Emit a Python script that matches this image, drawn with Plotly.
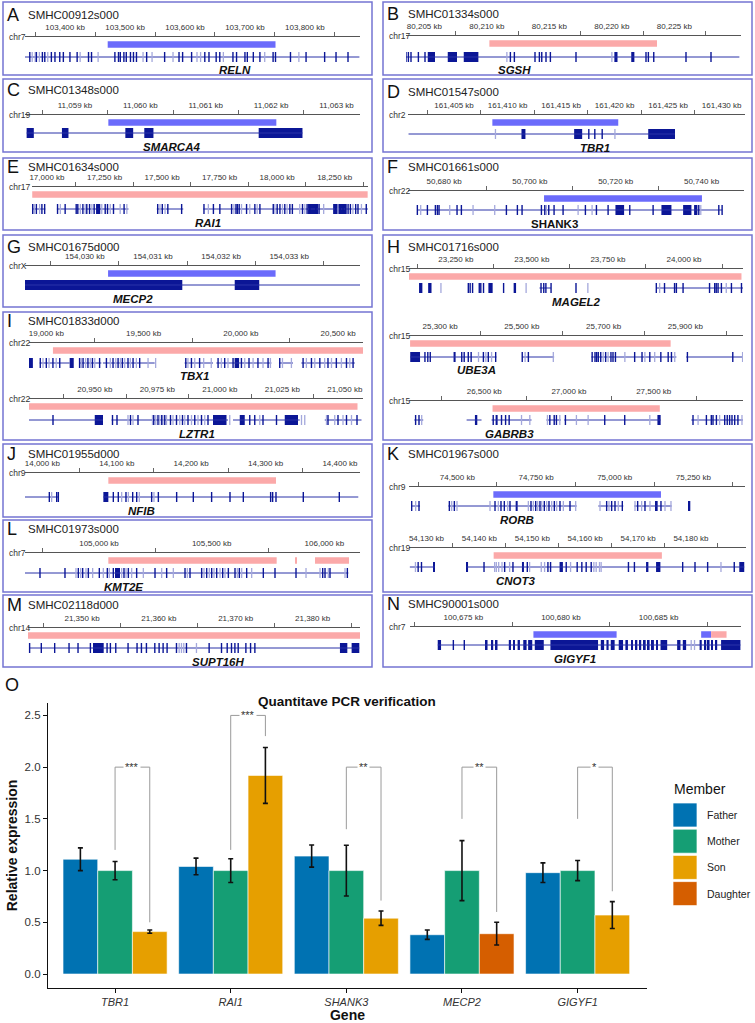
import plotly.graph_objects as go

# ====================== qPCR data (panel O) ======================
genes = ["TBR1", "RAI1", "SHANK3", "MECP2", "GIGYF1"]
members = ["Father", "Mother", "Son", "Daughter"]
father_vals = [1.11, 1.04, 1.14, 0.38, 0.98]
father_err = [0.11, 0.08, 0.107, 0.045, 0.095]
mother_vals = [1.00, 1.00, 1.00, 1.00, 1.00]
mother_err = [0.088, 0.115, 0.245, 0.29, 0.097]
son_genes = ["TBR1", "RAI1", "SHANK3", "GIGYF1"]
son_vals = [0.41, 1.92, 0.54, 0.57]
son_err = [0.016, 0.27, 0.07, 0.13]
daughter_genes = ["MECP2"]
daughter_vals = [0.39]
daughter_err = [0.11]
sig_labels = ["***", "***", "**", "**", "*"]
bracket_top = [2.0, 2.5, 2.0, 2.0, 2.0]
bracket_left_low = [1.2, 1.2, 1.4, 1.5, 1.5]
bracket_right_low = [0.5, 2.3, 0.71, 0.6, 0.8]
y_ticks = [0.0, 0.5, 1.0, 1.5, 2.0, 2.5]

# ====================== genome browser data (kb) ======================
RELN_range = [103333, 103892]
RELN_ticks = [103400, 103500, 103600, 103700, 103800]
RELN_cnv = [(103471, 103751, "dup")]
RELN_introns = [(103333, 103891)]
RELN_thin = [103341, 103352, 103362, 103366, 103377, 103383, 103391, 103397, 103408, 103420,
             103439, 103444, 103483, 103489, 103492, 103498, 103502, 103509, 103514, 103519,
             103536, 103566, 103590, 103596, 103611, 103633, 103640, 103652, 103658, 103680,
             103686, 103700, 103704, 103714, 103725, 103747, 103751, 103776, 103802, 103833,
             103852, 103872]
RELN_light = [103345, 103350, 103357, 103371, 103425, 103455, 103530, 103545, 103580, 103620,
              103626, 103664, 103733, 103790]
RELN_thick = []
RELN_label_at = 103683

SGSH_range = [80203.53, 80230.33]
SGSH_ticks = [80205, 80210, 80215, 80220, 80225]
SGSH_cnv = [(80210.2, 80223.61, "del")]
SGSH_introns = [(80203.45, 80230.2)]
SGSH_thin = [80203.53, 80203.72, 80203.93, 80204.52, 80205.05, 80211.88, 80212.2, 80213.85,
             80214.2, 80214.39, 80214.73, 80215.08, 80217.13, 80222.73, 80222.92, 80223.35,
             80225.93, 80227.93]
SGSH_light = [80211.6, 80220.0]
SGSH_thick = [(80205.27, 80205.85), (80206.87, 80207.61), (80208.15, 80209.32),
              (80220.2, 80220.45), (80221.55, 80221.8)]
SGSH_label_at = 80212.2

SMARCA4_range = [11058.235, 11063.36]
SMARCA4_ticks = [11059, 11060, 11061, 11062, 11063]
SMARCA4_cnv = [(11059.51, 11062.08, "dup")]
SMARCA4_introns = [(11058.26, 11062.48)]
SMARCA4_thin = []
SMARCA4_light = []
SMARCA4_thick = [(11058.26, 11058.37), (11058.8, 11058.9), (11059.77, 11059.89),
                 (11060.06, 11060.2), (11061.81, 11062.48)]
SMARCA4_label_at = 11060.48

TBR1_range = [161400.70, 161432.18]
TBR1_ticks = [161405, 161410, 161415, 161420, 161425, 161430]
TBR1_cnv = [(161408.58, 161420.34, "dup")]
TBR1_introns = [(161400.75, 161425.64)]
TBR1_thin = [161417.59, 161418.15, 161418.84]
TBR1_light = [161408.87, 161420.03]
TBR1_thick = [(161411.3, 161411.67), (161416.22, 161416.97), (161423.14, 161425.64)]
TBR1_label_at = 161418.15

RAI1_range = [16935, 18394.5]
RAI1_ticks = [17000, 17250, 17500, 17750, 18000, 18250]
RAI1_cnv = [(16936, 18393, "del")]
RAI1_introns = [(16935, 16993), (17043, 17354), (17477, 17592), (17679, 18394)]
RAI1_thin = [16938, 16954, 16978, 16990, 17046, 17079, 17127, 17134, 17156, 17173, 17185, 17205,
             17217, 17228, 17253, 17263, 17289, 17335, 17481, 17501, 17525, 17585, 17682, 17723,
             17751, 17802, 17821, 17827, 17835, 17867, 17903, 17925, 17983, 18000, 18012, 18033,
             18055, 18066, 18110, 18130, 18142, 18168, 18182, 18254, 18274, 18286, 18298, 18308,
             18318, 18341, 18351, 18387]
RAI1_light = [16945, 16968, 17058, 17145, 17166, 17195, 17238, 17275, 17318, 17347, 17491, 17513,
              17701, 17812, 17845, 17881, 17913, 17990, 18023, 18043, 18098, 18120, 18202, 18264,
              18329, 18366]
RAI1_thick = [(17214, 17231), (18134, 18178), (18243, 18301)]
RAI1_label_at = 17701

SHANK3_range = [50671.6, 50749.9]
SHANK3_ticks = [50680, 50700, 50720, 50740]
SHANK3_cnv = [(50703.3, 50740.1, "dup")]
SHANK3_introns = [(50673.78, 50744.8)]
SHANK3_thin = [50673.78, 50676.12, 50677.98, 50678.45, 50678.83, 50683.03, 50684.04, 50694.53,
               50697.09, 50698.18, 50702.69, 50703.47, 50704.4, 50705.64, 50707.74, 50712.94,
               50715.51, 50718.23, 50723.28, 50728.72, 50739.36, 50744.03, 50744.8]
SHANK3_light = [50674.56, 50681.32, 50686.76, 50691.81, 50703.85, 50711.24, 50714.5, 50739.83]
SHANK3_thick = [(50719.94, 50721.96), (50730.66, 50732.99), (50735.71, 50737.65),
                (50738.27, 50739.05)]
SHANK3_label_at = 50705.8

MECP2_range = [154029.12, 154034.04]
MECP2_ticks = [154030, 154031, 154032, 154033]
MECP2_cnv = [(154030.34, 154032.80, "dup")]
MECP2_introns = [(154029.12, 154034.04)]
MECP2_thin = []
MECP2_light = []
MECP2_thick = [(154029.12, 154031.43), (154032.2, 154032.56)]
MECP2_label_at = 154030.71

MAGEL2_range = [23096, 24194]
MAGEL2_ticks = [23250, 23500, 23750, 24000]
MAGEL2_cnv = [(23096, 24189, "del")]
MAGEL2_introns = [(23525, 23563), (23909, 24194)]
MAGEL2_thin = [23291, 23297, 23305, 23327, 23332, 23341, 23407, 23530, 23539, 23546, 23563,
               23645, 23909, 23936, 23969, 23975, 23997, 24084, 24101, 24106, 24112, 24123,
               24156, 24189]
MAGEL2_light = [23201, 23481, 23684, 23920, 24139]
MAGEL2_thick = [(23129, 23140), (23159, 23170), (23357, 23371), (23440, 23448)]
MAGEL2_label_at = 23645

UBE3A_range = [25224, 26041]
UBE3A_ticks = [25300, 25500, 25700, 25900]
UBE3A_cnv = [(25226.7, 25864, "del")]
UBE3A_introns = [(25227, 25438), (25501, 25579), (25670, 25878), (25902, 26041)]
UBE3A_thin = [25263, 25270, 25276, 25353, 25359, 25369, 25376, 25406, 25418, 25436, 25501,
              25516, 25672, 25679, 25683, 25687, 25693, 25705, 25718, 25723, 25729, 25776,
              25794, 25813, 25840, 25858, 25866, 25905, 26016]
UBE3A_light = [25394, 25412, 25426, 25508, 25577, 25699, 25711, 25752, 25801, 25825, 25874, 26040]
UBE3A_thick = [(25227, 25251), (25333, 25338)]
UBE3A_label_at = 25390

GABRB3_range = [26056, 28027]
GABRB3_ticks = [26500, 27000, 27500]
GABRB3_cnv = [(26549, 27536, "del")]
GABRB3_introns = [(26087, 26140), (26396, 26484), (26543, 26779), (26867, 26952),
                  (26972, 27541), (27722, 28027)]
GABRB3_thin = [26095, 26115, 26553, 26602, 26626, 26647, 26887, 26913, 26926, 26979, 27211,
               27329, 27732, 27811, 27840, 27850, 27870, 27919, 27934, 27948, 27962, 27978,
               27997]
GABRB3_light = [26131, 26720, 26769, 26873, 26946, 27044, 27113, 27477, 27762, 27889, 28021]
GABRB3_thick = [(26445, 26459), (26567, 26579), (27522, 27541)]
GABRB3_label_at = 26651

TBX1_range = [18911, 20628]
TBX1_ticks = [19000, 19500, 20000, 20500]
TBX1_cnv = [(19034, 20628, "del")]
TBX1_introns = [(18966, 19120), (19171, 19283), (19291, 19557), (19711, 19857),
                (19874, 20157), (20196, 20268), (20311, 20586)]
TBX1_thin = [18969, 19000, 19034, 19069, 19171, 19189, 19214, 19237, 19274, 19309, 19343,
             19369, 19391, 19420, 19446, 19480, 19717, 19746, 19788, 19883, 19917, 19960,
             20003, 20042, 20088, 20140, 20200, 20320, 20363, 20406, 20448, 20491, 20543,
             20577]
TBX1_light = [18983, 19014, 19051, 19180, 19202, 19226, 19249, 19329, 19357, 19381, 19403,
              19432, 19463, 19523, 19562, 19728, 19763, 19809, 19848, 19900, 19934, 20020,
              20063, 20114, 20152, 20214, 20260, 20337, 20380, 20431, 20466, 20517, 20560]
TBX1_thick = [(18911, 18931), (19120, 19141), (19968, 19991)]
TBX1_label_at = 19763

LZTR1_range = [20923.7, 21057.3]
LZTR1_ticks = [20950, 20975, 21000, 21025, 21050]
LZTR1_cnv = [(20923.7, 21055.1, "del")]
LZTR1_introns = [(20923.7, 20953.3), (20956.7, 21003.3), (21005.3, 21032), (21042, 21056.7)]
LZTR1_thin = [20933.3, 20957.1, 20958.9, 20964.3, 20967.3, 20973.6, 20975.3, 20976.8, 20978,
              20980.3, 20982.7, 20985.1, 20987.3, 20990, 20992.7, 20995.3, 21012, 21014,
              21017.3, 21022.7, 21043.3, 21047.3, 21050.7, 21054.9]
LZTR1_light = [20963.3, 20965.3, 20973.1, 20974.4, 20976, 20977.3, 20978.7, 20981.3, 20984,
               20986, 20988.7, 20991.3, 20994, 21004, 21016, 21032.7, 21034, 21042.7, 21046,
               21049.3, 21052.7]
LZTR1_thick = [(20950, 20953.3), (20997.3, 21002.7), (21008, 21010), (21026, 21031.3)]
LZTR1_label_at = 20990.7

NFIB_range = [13976.7, 14426.9]
NFIB_ticks = [14000, 14100, 14200, 14300, 14400]
NFIB_cnv = [(14088.7, 14314, "del")]
NFIB_introns = [(13976.7, 14021.5), (14082, 14424.6)]
NFIB_thin = [14009.4, 14019.3, 14021.5, 14095.4, 14102.1, 14112.4, 14121.4, 14126.8, 14146.9,
             14155.9, 14180.5, 14202.9, 14227.5, 14252.2, 14270.1, 14306.8, 14309.5, 14314,
             14350.7, 14399.1]
NFIB_light = [14012.5, 14106.6, 14115.6, 14130.3, 14150]
NFIB_thick = [(14082, 14088.7)]
NFIB_label_at = 14133.5

RORB_range = [74346.4, 75414]
RORB_ticks = [74500, 74750, 75000, 75250]
RORB_cnv = [(74614.4, 75147, "dup")]
RORB_introns = [(74352.8, 74381.4), (74471.4, 74879.1), (74948, 75027.4), (75062.3, 75180.9)]
RORB_thin = [74354.9, 74378.2, 74474.6, 74490.5, 74619.7, 74638.7, 74649.3, 74667.3, 74734,
             74748.9, 74762.6, 74776.4, 74791.2, 74808.2, 74826.2, 74858, 74974.4, 74990.3,
             75000.9, 75024.2, 75072.9, 75096.2, 75147]
RORB_light = [74367.6, 74482, 74498.9, 74603.8, 74630.3, 74659.9, 74725.6, 74741.5, 74755.2,
              74767.9, 74783.8, 74799.7, 74815.6, 74836.8, 74876, 74953.3, 74981.8, 75011.5,
              75064.5, 75085.6, 75112.1, 75159.8, 75178.8]
RORB_thick = [(74685.3, 74691.7), (75128, 75136.5), (75233.9, 75240.2)]
RORB_label_at = 74688.5

CNOT3_range = [54126.7, 54190.4]
CNOT3_ticks = [54130, 54140, 54150, 54160, 54170, 54180]
CNOT3_cnv = [(54142.7, 54174.5, "del")]
CNOT3_introns = [(54126.86, 54131.57), (54137.55, 54190.07)]
CNOT3_thin = [54128.43, 54129.06, 54140.88, 54144.78, 54146.35, 54149.06, 54152.96, 54153.46,
              54156.42, 54158.49, 54159.37, 54160.19, 54161.14, 54168.18, 54169.31, 54178.43,
              54180.76, 54183.15, 54188.18]
CNOT3_light = [54127.92, 54142.89, 54143.21, 54143.65, 54144.28, 54145.72, 54149.5, 54151.7,
               54152.33, 54157.24, 54161.64, 54162.08, 54162.71, 54163.02, 54185.67]
CNOT3_thick = [(54131.26, 54131.57), (54137.55, 54137.86), (54148.05, 54148.43),
               (54155.16, 54155.79), (54171.51, 54171.95), (54173.4, 54174.22),
               (54189.13, 54190.07)]
CNOT3_label_at = 54146.98

KMT2E_range = [104671.7, 106158]
KMT2E_ticks = [105000, 105500, 106000]
KMT2E_cnv = [(105041.4, 105788.3, "del"), (105869.7, 105877, "del"), (105958.4, 106109.3, "del")]
KMT2E_introns = [(104671.7, 106106.3)]
KMT2E_thin = [104738.2, 104849.1, 104908.3, 104927.5, 104952.7, 105001.5, 105037, 105063.6,
              105110.9, 105130.2, 105167.1, 105248.5, 105300.2, 105381.6, 105403.8, 105455.5,
              105477.7, 105499.9, 105522.1, 105548.7, 105573.9, 105603.4, 105622.7, 105655.2,
              105729.1, 105780.9, 105874.1, 105992.4, 106002.8, 106024.9, 106101.9]
KMT2E_light = [104897.9, 104918.7, 104942.3, 104971.9, 105019.2, 105045.8, 105100.6, 105119.8,
               105144.9, 105196.7, 105278, 105329.8, 105391.9, 105465.9, 105489.5, 105510.3,
               105536.9, 105559.1, 105613.8, 105633, 105677.4, 105918.5, 105980.6, 106017.6,
               106091.5]
KMT2E_thick = [(105071, 105093.2)]
KMT2E_label_at = 105108

SUPT16H_range = [21342.97, 21386.17]
SUPT16H_ticks = [21350, 21360, 21370, 21380]
SUPT16H_cnv = [(21342.97, 21386.17, "del")]
SUPT16H_introns = [(21343.1, 21386.08)]
SUPT16H_thin = [21343.18, 21344.7, 21346.44, 21348.31, 21349.48, 21351.09, 21353.26, 21353.69,
                21354.39, 21355.99, 21357.16, 21357.73, 21358.38, 21359.47, 21360.03, 21360.55,
                21361.07, 21362.29, 21363.59, 21366.54, 21368.15, 21368.89, 21369.45, 21369.89,
                21370.32, 21371.32, 21371.93, 21372.49]
SUPT16H_light = [21362.64, 21362.94, 21363.24, 21364.89]
SUPT16H_thick = [(21351.43, 21352.82), (21383.56, 21384.52), (21385.08, 21386.08)]
SUPT16H_label_at = 21367.7

GIGYF1_range = [100672.27, 100689.22]
GIGYF1_ticks = [100675, 100680, 100685]
GIGYF1_cnv = [(100678.59, 100682.85, "dup"), (100687.18, 100687.69, "dup"),
              (100687.69, 100688.48, "del")]
GIGYF1_introns = [(100673.69, 100689.19)]
GIGYF1_thin = [100674.49, 100675.05]
GIGYF1_light = [100686.67, 100686.84]
GIGYF1_thick = [(100673.69, 100673.86), (100676.11, 100676.24), (100676.45, 100676.53),
                (100676.65, 100676.75), (100677.33, 100677.44), (100677.56, 100677.64),
                (100677.78, 100677.9), (100678.07, 100678.24), (100678.32, 100678.53),
                (100678.66, 100679.12), (100679.46, 100681.9), (100682.04, 100682.21),
                (100682.33, 100682.44), (100682.55, 100682.75), (100682.96, 100683.18),
                (100683.3, 100683.43), (100683.6, 100683.69), (100683.81, 100683.91),
                (100684.03, 100684.11), (100684.25, 100684.34), (100684.45, 100684.54),
                (100684.66, 100684.76), (100684.88, 100684.97), (100685.1, 100685.44),
                (100685.95, 100686.12), (100686.24, 100686.41), (100687.1, 100687.21),
                (100687.35, 100687.44), (100687.52, 100687.61), (100687.69, 100687.78),
                (100687.9, 100688.0), (100688.2, 100689.19)]
GIGYF1_label_at = 100680.71

G = globals()
def gene_data(name):
    return {k: G[f"{name}_{k}"] for k in
            ["range", "ticks", "cnv", "introns", "thin", "light", "thick", "label_at"]}

# ====================== layout / styles ======================
W, H = 755, 1023
FONT = "Liberation Sans, Arial, Helvetica, sans-serif"
EXON = "#0b1696"
LIGHT = "#a4a8dc"
INTRON = "#2a33a8"
CNV_COL = {"dup": "#6b6bfb", "del": "#fba9a9"}
BOX = "#7474d2"
MEMBER_COL = {"Father": "#0072B2", "Mother": "#159E74", "Son": "#E69F00", "Daughter": "#D55E00"}

def fx(p):
    return p / W

def fy(p):
    return 1 - p / H

# panel letter, id, box (l, t, r, b) in px, id text centre y
PANELS = [
    ("A", "SMHC00912s000", (3, 2, 372, 75), 15),
    ("B", "SMHC01334s000", (383, 2, 752, 75), 14),
    ("C", "SMHC01348s000", (3, 79, 372, 152), 90),
    ("D", "SMHC01547s000", (383, 79, 752, 152), 92),
    ("E", "SMHC01634s000", (3, 158, 372, 230), 167),
    ("F", "SMHC01661s000", (383, 158, 752, 230), 167),
    ("G", "SMHC01675d000", (3, 235, 372, 307), 247),
    ("H", "SMHC01716s000", (383, 235, 752, 440), 247),
    ("I", "SMHC01833d000", (3, 312, 372, 440), 321),
    ("J", "SMHC01955d000", (3, 444, 372, 517), 454),
    ("K", "SMHC01967s000", (383, 444, 752, 592), 454),
    ("L", "SMHC01973s000", (3, 520, 372, 592), 529),
    ("M", "SMHC02118d000", (3, 595, 372, 667), 605),
    ("N", "SMHC90001s000", (383, 595, 752, 667), 604),
]

# gene, chromosome, box left, axis x-extent px, axis line y px, gene centre y px, italic
TRACKS = [
    ("RELN", "chr7", 3, (25, 360), 37, 57, True),
    ("SGSH", "chr17", 383, (406, 741), 36, 57, True),
    ("SMARCA4", "chr19", 3, (25, 360), 115, 133, True),
    ("TBR1", "chr2", 383, (408, 745), 115, 134, True),
    ("RAI1", "chr17", 3, (32, 368), 187, 209, True),
    ("SHANK3", "chr22", 383, (408, 744), 191, 210, False),
    ("MECP2", "chrX", 3, (25, 360), 266, 285, True),
    ("MAGEL2", "chr15", 383, (409, 743), 269, 288, True),
    ("UBE3A", "chr15", 383, (409, 743), 336, 357, True),
    ("GABRB3", "chr15", 383, (409, 743), 401, 420, True),
    ("TBX1", "chr22", 3, (29, 363), 343, 363, True),
    ("LZTR1", "chr22", 3, (29, 363), 399, 420, True),
    ("NFIB", "chr9", 3, (25, 360), 473, 497, True),
    ("RORB", "chr9", 383, (409, 745), 487, 506, True),
    ("CNOT3", "chr19", 383, (409, 746), 548, 567, True),
    ("KMT2E", "chr7", 3, (25, 360), 553, 573, True),
    ("SUPT16H", "chr14", 3, (28, 360), 628, 648, True),
    ("GIGYF1", "chr7", 383, (410, 741), 627, 645, True),
]

fig = go.Figure()
shapes = []
annotations = []
layout_axes = {}

# ---------- panel boxes and headers ----------
for letter, pid, (l, t, r, b), idy in PANELS:
    shapes.append(dict(type="rect", xref="paper", yref="paper", x0=fx(l), x1=fx(r),
                       y0=fy(b), y1=fy(t), line=dict(color=BOX, width=1.5),
                       fillcolor="rgba(0,0,0,0)", layer="below"))
    annotations.append(dict(text=letter, xref="paper", yref="paper", x=fx(l + 2), y=fy(idy),
                            xanchor="left", yanchor="middle", showarrow=False,
                            font=dict(family=FONT, size=18, color="#111")))
    annotations.append(dict(text=pid, xref="paper", yref="paper", x=fx(l + 23), y=fy(idy),
                            xanchor="left", yanchor="middle", showarrow=False,
                            font=dict(family=FONT, size=11.5, color="#222")))

TRACK_H = 42  # px of y-range under the axis line
for i, (gname, chrom, boxl, (x0p, x1p), axy, gy, ital) in enumerate(TRACKS):
    d = gene_data(gname)
    k = i + 2
    xa, ya = f"x{k}", f"y{k}"
    g = gy - axy  # gene centre in track units (px below axis line)
    step = d["ticks"][1] - d["ticks"][0]
    minor_vals = [t - step / 2 for t in d["ticks"]] + [d["ticks"][-1] + step / 2]
    layout_axes[f"xaxis{k}"] = dict(
        domain=[fx(x0p), fx(x1p)], range=d["range"], anchor=ya, side="top",
        showline=True, linecolor="#555", linewidth=1, showgrid=False, zeroline=False,
        tickmode="array", tickvals=d["ticks"],
        ticktext=[f"{int(round(t)):,} kb" for t in d["ticks"]],
        ticks="outside", ticklen=3, tickcolor="rgba(0,0,0,0)",
        tickfont=dict(family=FONT, size=8, color="#333"),
        minor=dict(tickmode="array", tickvals=minor_vals, ticks="outside", ticklen=4,
                   tickcolor="#666", tickwidth=1),
        fixedrange=True, automargin=False)
    layout_axes[f"yaxis{k}"] = dict(
        domain=[fy(axy + TRACK_H), fy(axy)], range=[TRACK_H, 0], visible=False,
        anchor=xa, fixedrange=True)

    # CNV bars
    for typ in ["dup", "del"]:
        segs = [c for c in d["cnv"] if c[2] == typ]
        if segs:
            fig.add_trace(go.Bar(
                x=[e - s for s, e, _ in segs], base=[s for s, e, _ in segs],
                y=[7.5] * len(segs), width=6.5, orientation="h",
                marker=dict(color=CNV_COL[typ], line=dict(width=0)),
                xaxis=xa, yaxis=ya, showlegend=False, hoverinfo="skip"))
    # introns
    ix, iy = [], []
    for s, e in d["introns"]:
        ix += [s, e, None]
        iy += [g, g, None]
    fig.add_trace(go.Scatter(x=ix, y=iy, mode="lines", line=dict(color=INTRON, width=1),
                             xaxis=xa, yaxis=ya, showlegend=False, hoverinfo="skip"))
    # light (overlapping transcript) exons, then dark thin exons
    for vals, col, wid in [(d["light"], LIGHT, 1.3), (d["thin"], EXON, 1.4)]:
        if vals:
            ex, ey = [], []
            for p in vals:
                ex += [p, p, None]
                ey += [g - 5, g + 5, None]
            fig.add_trace(go.Scatter(x=ex, y=ey, mode="lines", line=dict(color=col, width=wid),
                                     xaxis=xa, yaxis=ya, showlegend=False, hoverinfo="skip"))
    # thick exons
    if d["thick"]:
        fig.add_trace(go.Bar(
            x=[e - s for s, e in d["thick"]], base=[s for s, e in d["thick"]],
            y=[g] * len(d["thick"]), width=10, orientation="h",
            marker=dict(color=EXON, line=dict(width=0)),
            xaxis=xa, yaxis=ya, showlegend=False, hoverinfo="skip"))
    # chromosome label
    annotations.append(dict(text=chrom, xref="paper", yref="paper", x=fx(boxl + 4), y=fy(axy),
                            xanchor="left", yanchor="middle", showarrow=False,
                            font=dict(family=FONT, size=8.5, color="#333")))
    # gene name
    label = f"<b><i>{gname}</i></b>" if ital else f"<b>{gname}</b>"
    annotations.append(dict(text=label, xref=xa, yref=ya, x=d["label_at"], y=g + 13.5,
                            xanchor="center", yanchor="middle", showarrow=False,
                            font=dict(family=FONT, size=11.5, color="#111")))

# ====================== panel O: qPCR bar chart ======================
gidx = {gname: i for i, gname in enumerate(genes)}
OFFS = {"Father": -0.45, "Mother": -0.15, "Son": 0.15, "Daughter": 0.15}
series = [("Father", genes, father_vals, father_err),
          ("Mother", genes, mother_vals, mother_err),
          ("Son", son_genes, son_vals, son_err),
          ("Daughter", daughter_genes, daughter_vals, daughter_err)]
for name, gl, vals, errs in series:
    fig.add_trace(go.Bar(
        name=name, x=[gidx[gg] for gg in gl], y=vals, offset=OFFS[name], width=0.3,
        marker=dict(color=MEMBER_COL[name], line=dict(color="rgba(255,255,255,0.6)", width=1)),
        error_y=dict(type="data", array=errs, color="#111", thickness=1.6, width=2.5),
        legendgroup=name, showlegend=False, xaxis="x", yaxis="y"))

# significance brackets (Mother vs Son/Daughter)
for i, lab in enumerate(sig_labels):
    xl, xr = i + 0.0, i + 0.3
    fig.add_trace(go.Scatter(
        x=[xl, xl, xr, xr], y=[bracket_left_low[i], bracket_top[i], bracket_top[i],
                               bracket_right_low[i]],
        mode="lines", line=dict(color="#9a9a9a", width=1), xaxis="x", yaxis="y",
        showlegend=False, hoverinfo="skip"))
    annotations.append(dict(text=lab, xref="x", yref="y", x=(xl + xr) / 2, y=bracket_top[i],
                            showarrow=False, bgcolor="white", borderpad=1,
                            font=dict(family=FONT, size=11, color="#333"),
                            xanchor="center", yanchor="middle"))

# ---------- legend ("Member") with large key squares ----------
LEG_X, LEG_TITLE_Y, LEG_TOP, KEY, KEY_GAP = 673, 789, 803, 24, 2.2
annotations.append(dict(text="Member", xref="paper", yref="paper", x=fx(LEG_X - 1),
                        y=fy(LEG_TITLE_Y), xanchor="left", yanchor="middle", showarrow=False,
                        font=dict(family=FONT, size=14, color="#111")))
for j, m in enumerate(members):
    top = LEG_TOP + j * (KEY + KEY_GAP)
    shapes.append(dict(type="rect", xref="paper", yref="paper", x0=fx(LEG_X),
                       x1=fx(LEG_X + KEY), y0=fy(top + KEY), y1=fy(top),
                       fillcolor=MEMBER_COL[m], line=dict(color="rgba(255,255,255,0.7)", width=1)))
    annotations.append(dict(text=m, xref="paper", yref="paper", x=fx(LEG_X + KEY + 8),
                            y=fy(top + KEY / 2), xanchor="left", yanchor="middle",
                            showarrow=False, font=dict(family=FONT, size=10.5, color="#222")))

annotations.append(dict(text="O", xref="paper", yref="paper", x=fx(3), y=fy(685),
                        xanchor="left", yanchor="middle", showarrow=False,
                        font=dict(family=FONT, size=18, color="#111")))
annotations.append(dict(text="<b>Quantitave PCR verification</b>", xref="paper", yref="paper",
                        x=fx(347), y=fy(701), xanchor="center", yanchor="middle",
                        showarrow=False, font=dict(family=FONT, size=13.5, color="#111")))

layout_axes["xaxis"] = dict(
    domain=[fx(48), fx(647)], range=[-0.58, 4.6], anchor="y",
    tickmode="array", tickvals=list(range(len(genes))), ticktext=genes,
    tickfont=dict(family=FONT, size=11, color="#333", style="italic"),
    showline=True, linecolor="#111", linewidth=1.2, ticks="outside", ticklen=4,
    tickcolor="#111", showgrid=False, zeroline=False, fixedrange=True, automargin=False,
    title=dict(text="<b>Gene</b>", font=dict(family=FONT, size=14, color="#111"), standoff=2))
layout_axes["yaxis"] = dict(
    domain=[fy(988), fy(703)], range=[-0.135, 2.62], anchor="x",
    tickmode="array", tickvals=y_ticks, tickformat=".1f",
    tickfont=dict(family=FONT, size=11.5, color="#333"),
    showline=True, linecolor="#111", linewidth=1.2, ticks="outside", ticklen=4,
    tickcolor="#111", showgrid=False, zeroline=False, fixedrange=True, automargin=False,
    title=dict(text="<b>Relative expression</b>", font=dict(family=FONT, size=14, color="#111"),
               standoff=3))

fig.update_layout(
    width=W, height=H, margin=dict(l=0, r=0, t=0, b=0),
    paper_bgcolor="white", plot_bgcolor="rgba(0,0,0,0)",
    barmode="overlay", shapes=shapes, annotations=annotations,
    font=dict(family=FONT), showlegend=False,
    **layout_axes)

fig.write_html("out.html", config={"displayModeBar": False},
               post_script="document.body.style.margin='0px';")
